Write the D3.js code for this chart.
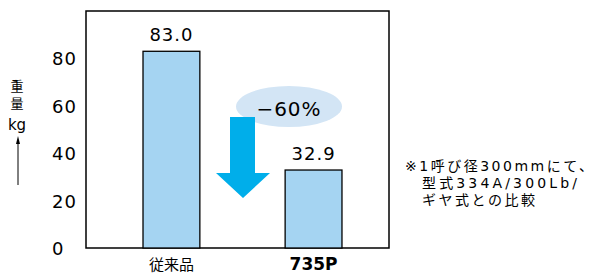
<!DOCTYPE html>
<html>
<head>
<meta charset="utf-8">
<script src="https://cdn.jsdelivr.net/npm/d3@7"></script>
<style>
  body { margin: 0; background: #fff; }
  svg { display: block; font-family: "DejaVu Sans", sans-serif; }
</style>
</head>
<body>
<svg id="chart"></svg>
<script>
const width = 597;
const height = 273;

const categories = ["従来品", "735P"];
const weights = [83.0, 32.9];
const valueLabels = ["83.0", "32.9"];
const yTicks = [0, 20, 40, 60, 80];
const reduction = "−60%";
const notes = ["※1呼び径300mmにて、", "型式334A/300Lb/", "ギヤ式との比較"];
const noteWidths = [188, 155, 113];

const svg = d3.select("#chart").attr("width", width).attr("height", height);

const x = d3.scaleBand()
  .domain(categories)
  .range([86, 389])
  .paddingInner(0.6)
  .paddingOuter(0.366)
  .align(0.548);

const y = d3.scaleLinear().domain([0, 100]).range([248, 11]);

// frame
svg.append("rect")
  .attr("x", 86).attr("y", y(100))
  .attr("width", 389 - 86).attr("height", y(0) - y(100))
  .attr("fill", "none").attr("stroke", "#000").attr("stroke-width", 1.5);

// bars
svg.selectAll(".bar")
  .data(weights)
  .enter()
  .append("rect")
  .attr("class", "bar")
  .attr("x", (d, i) => x(categories[i]))
  .attr("y", d => y(d))
  .attr("width", x.bandwidth())
  .attr("height", d => y(0) - y(d))
  .attr("fill", "#a5d4f2")
  .attr("stroke", "#000")
  .attr("stroke-width", 1.3);

// value labels
svg.selectAll(".val")
  .data(weights)
  .enter()
  .append("text")
  .attr("x", (d, i) => x(categories[i]) + x.bandwidth() / 2)
  .attr("y", d => y(d) - 10)
  .attr("text-anchor", "middle")
  .attr("font-size", 18)
  .attr("letter-spacing", 1)
  .text((d, i) => valueLabels[i]);

// y tick labels
svg.selectAll(".tick")
  .data(yTicks)
  .enter()
  .append("text")
  .attr("x", 52)
  .attr("y", d => y(d) + 7)
  .attr("font-size", 18)
  .attr("letter-spacing", 1)
  .text(d => d);

// x labels
svg.selectAll(".cat")
  .data(categories)
  .enter()
  .append("text")
  .attr("x", d => x(d) + x.bandwidth() / 2)
  .attr("y", 270)
  .attr("text-anchor", "middle")
  .attr("font-family", d => d === "735P" ? "DejaVu Sans" : "Noto Sans CJK JP")
  .attr("font-size", d => d === "735P" ? 17 : 15)
  .attr("font-weight", d => d === "735P" ? "bold" : "normal")
  .text(d => d);

// y axis title, stacked
const yt = svg.append("text")
  .attr("font-family", "Noto Sans CJK JP")
  .attr("font-size", 13)
  .attr("text-anchor", "middle");
yt.append("tspan").attr("x", 17).attr("y", 91).text("重");
yt.append("tspan").attr("x", 17).attr("y", 108).text("量");
yt.append("tspan").attr("x", 17).attr("y", 130)
  .attr("font-family", "DejaVu Sans").attr("font-size", 15).text("kg");
svg.append("line")
  .attr("x1", 18).attr("x2", 18).attr("y1", 185).attr("y2", 142)
  .attr("stroke", "#000").attr("stroke-width", 1);
svg.append("path")
  .attr("d", "M18,136 L16,144 L20,144 Z")
  .attr("fill", "#000");

// reduction badge
const bx = 289;
svg.append("ellipse")
  .attr("cx", bx).attr("cy", 106.5).attr("rx", 53).attr("ry", 20.5)
  .attr("fill", "#d3e5f5");

// down arrow
svg.append("path")
  .attr("d", "M230,117 L255,117 L255,173 L270,173 L243,198 L216,173 L230,173 Z")
  .attr("fill", "#00aeea");

svg.append("text")
  .attr("x", bx).attr("y", 116)
  .attr("text-anchor", "middle")
  .attr("font-size", 20)
  .attr("letter-spacing", 1)
  .text(reduction);

// footnote
svg.selectAll(".note")
  .data(notes)
  .enter()
  .append("text")
  .attr("x", (d, i) => i === 0 ? 405 : 422)
  .attr("y", (d, i) => 171 + i * 17)
  .attr("font-family", "'DejaVu Sans', 'Noto Sans CJK JP'")
  .attr("font-size", 14)
  .attr("textLength", (d, i) => noteWidths[i])
  .attr("lengthAdjust", "spacing")
  .text(d => d);
</script>
</body>
</html>
